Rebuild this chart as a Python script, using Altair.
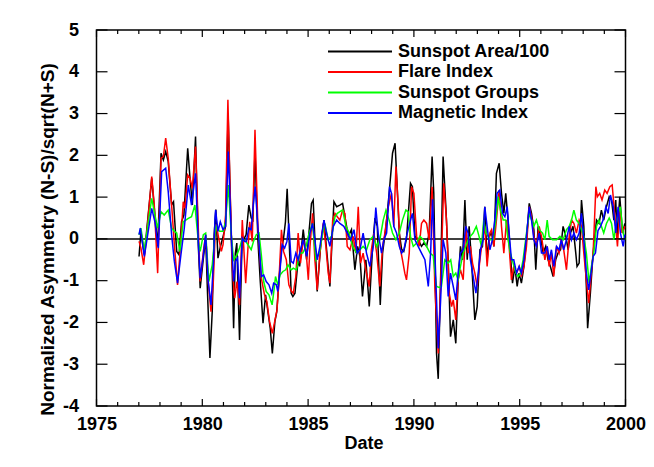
import altair as alt
import pandas as pd

FONT = "Liberation Sans, Arial, Helvetica, sans-serif"

names = ["Sunspot Area/100", "Flare Index", "Sunspot Groups", "Magnetic Index"]
colors = ["#000000", "#ff0000", "#00ff00", "#0000ff"]

area = [(1977.01,-0.42),(1977.10,0.18),(1977.26,-0.38),(1977.61,1.45),(1977.89,-0.18),(1978.05,2.05),(1978.16,1.89),(1978.27,2.09),(1978.39,1.85),(1978.55,0.81),(1978.64,0.89),(1978.79,-0.30),(1978.90,-0.38),(1979.02,0.41),(1979.13,0.57),(1979.31,2.17),(1979.42,1.45),(1979.53,0.81),(1979.68,2.45),(1979.81,-0.14),(1979.90,-1.18),(1980.05,-0.46),(1980.16,0.02),(1980.25,-1.34),(1980.36,-2.85),(1980.47,-1.74),(1980.56,0.10),(1980.64,0.70),(1980.74,-0.46),(1980.85,-0.20),(1980.98,0.05),(1981.10,0.30),(1981.22,3.00),(1981.33,0.80),(1981.40,-0.50),(1981.48,-2.14),(1981.56,-0.35),(1981.63,-0.10),(1981.76,-2.42),(1981.88,-0.06),(1981.99,0.02),(1982.07,0.10),(1982.20,0.81),(1982.31,0.50),(1982.39,0.45),(1982.49,2.09),(1982.63,-0.05),(1982.74,-1.02),(1982.87,-2.02),(1982.99,-1.34),(1983.10,-1.74),(1983.21,-2.14),(1983.31,-2.74),(1983.43,-1.98),(1983.52,-1.74),(1983.62,-1.02),(1983.73,-0.30),(1983.84,0.02),(1983.93,0.41),(1984.01,1.20),(1984.09,0.18),(1984.20,-1.30),(1984.28,-1.38),(1984.38,-1.30),(1984.53,-0.50),(1984.60,-0.66),(1984.77,0.22),(1984.93,-0.50),(1985.16,0.85),(1985.24,0.93),(1985.43,-1.26),(1985.59,-0.18),(1985.75,0.45),(1986.03,-1.14),(1986.22,0.89),(1986.35,0.77),(1986.50,0.81),(1986.63,0.85),(1986.74,0.53),(1986.90,0.06),(1987.05,0.22),(1987.21,-0.74),(1987.34,-0.18),(1987.45,-0.42),(1987.57,-1.38),(1987.73,-0.50),(1987.89,-1.62),(1988.05,-0.18),(1988.16,0.50),(1988.27,0.30),(1988.41,-1.58),(1988.52,-0.34),(1988.68,0.30),(1988.83,1.09),(1988.99,2.05),(1989.11,2.29),(1989.21,1.25),(1989.31,0.14),(1989.42,-0.25),(1989.52,-0.30),(1989.65,0.00),(1989.84,1.33),(1989.93,1.25),(1990.05,0.06),(1990.20,-0.02),(1990.36,-0.18),(1990.47,-0.10),(1990.60,-0.18),(1990.72,0.14),(1990.86,1.97),(1990.94,1.09),(1991.07,-2.74),(1991.15,-3.35),(1991.26,-1.00),(1991.38,1.97),(1991.51,0.77),(1991.62,-0.50),(1991.73,-2.34),(1991.86,-1.94),(1991.98,-2.50),(1992.09,-1.00),(1992.20,-0.18),(1992.30,-0.50),(1992.41,0.93),(1992.52,-0.50),(1992.61,0.30),(1992.72,-0.50),(1992.88,-1.94),(1992.99,-1.62),(1993.12,-0.26),(1993.24,-0.18),(1993.35,0.77),(1993.46,-0.50),(1993.56,0.06),(1993.67,0.14),(1993.78,-0.18),(1993.90,1.57),(1994.03,1.81),(1994.14,1.09),(1994.25,0.61),(1994.34,1.09),(1994.45,0.45),(1994.53,-0.18),(1994.66,-1.06),(1994.77,-0.66),(1994.88,-1.14),(1994.97,-0.82),(1995.08,-1.06),(1995.20,-0.66),(1995.32,-0.02),(1995.45,0.85),(1995.56,0.61),(1995.67,0.22),(1995.76,-0.74),(1995.87,0.30),(1995.98,0.06),(1996.11,-0.34),(1996.23,-0.18),(1996.34,-0.50),(1996.45,-0.66),(1996.58,-0.90),(1996.70,-0.50),(1996.81,-0.34),(1996.93,-0.26),(1997.05,0.30),(1997.18,0.06),(1997.29,-0.26),(1997.40,0.14),(1997.52,0.30),(1997.65,-0.34),(1997.71,-0.66),(1997.81,-0.58),(1997.92,0.93),(1998.03,0.30),(1998.15,-1.14),(1998.21,-2.14),(1998.34,-1.30),(1998.47,-0.34),(1998.63,0.45),(1998.75,0.37),(1998.86,0.69),(1998.97,0.45),(1999.10,0.77),(1999.23,1.01),(1999.34,0.93),(1999.45,0.45),(1999.54,0.93),(1999.60,0.06),(1999.73,1.01),(1999.86,0.14),(1999.97,0.37)]

flare = [(1977.01,-0.06),(1977.10,-0.22),(1977.23,-0.62),(1977.37,0.10),(1977.61,1.49),(1977.73,0.81),(1977.89,-0.82),(1978.05,1.93),(1978.16,1.97),(1978.27,2.41),(1978.39,1.93),(1978.55,0.81),(1978.68,-0.14),(1978.83,-1.10),(1978.94,-0.38),(1979.10,0.89),(1979.18,0.73),(1979.31,1.53),(1979.42,1.45),(1979.53,1.21),(1979.68,2.21),(1979.81,0.26),(1979.90,-1.02),(1980.05,-0.30),(1980.16,0.10),(1980.28,-1.02),(1980.41,-1.74),(1980.52,-1.02),(1980.60,0.02),(1980.66,0.35),(1980.78,0.00),(1980.90,-0.30),(1980.98,-0.14),(1981.10,0.57),(1981.21,3.33),(1981.32,1.05),(1981.42,-0.70),(1981.53,-1.42),(1981.64,-1.02),(1981.76,-1.58),(1981.89,0.45),(1982.05,-1.06),(1982.24,0.41),(1982.36,-0.06),(1982.49,2.61),(1982.63,0.26),(1982.79,-0.94),(1982.94,-1.34),(1983.05,-1.50),(1983.18,-1.98),(1983.31,-2.26),(1983.42,-1.98),(1983.53,-1.70),(1983.62,-1.02),(1983.74,0.22),(1983.84,-0.30),(1983.97,-0.50),(1984.09,-1.10),(1984.22,-1.26),(1984.30,-1.30),(1984.42,-0.90),(1984.53,0.14),(1984.64,-0.58),(1984.77,-0.02),(1984.90,-0.26),(1985.01,-0.98),(1985.09,-0.18),(1985.21,0.61),(1985.32,-0.50),(1985.43,-1.22),(1985.56,-0.34),(1985.72,0.37),(1985.84,-0.18),(1985.95,-0.82),(1986.03,-1.06),(1986.16,0.45),(1986.27,0.61),(1986.38,0.53),(1986.50,0.45),(1986.63,0.69),(1986.74,0.61),(1986.85,-0.18),(1986.98,-0.26),(1987.13,0.06),(1987.26,-0.34),(1987.37,0.77),(1987.48,-0.58),(1987.60,-0.34),(1987.73,-0.74),(1987.89,-1.14),(1987.99,-0.26),(1988.11,0.14),(1988.24,-0.34),(1988.39,-1.14),(1988.52,-0.18),(1988.63,0.14),(1988.79,0.77),(1988.94,1.09),(1989.05,0.30),(1989.15,1.73),(1989.26,0.77),(1989.34,-0.18),(1989.46,-0.50),(1989.57,-0.82),(1989.65,-0.98),(1989.78,-0.34),(1989.89,1.25),(1990.00,1.09),(1990.13,0.06),(1990.25,-0.18),(1990.36,0.37),(1990.47,0.45),(1990.60,0.37),(1990.72,-0.02),(1990.86,1.25),(1990.99,-1.14),(1991.15,-2.74),(1991.26,-1.14),(1991.41,1.33),(1991.54,0.45),(1991.67,-1.30),(1991.78,-1.62),(1991.86,-1.46),(1991.98,-1.94),(1992.09,-0.98),(1992.20,-0.74),(1992.33,-0.98),(1992.45,0.30),(1992.56,-0.34),(1992.67,-0.18),(1992.77,-0.58),(1992.88,-0.82),(1992.99,-1.14),(1993.12,-0.50),(1993.24,-0.02),(1993.35,0.30),(1993.46,-0.66),(1993.59,0.14),(1993.67,0.22),(1993.78,-0.18),(1993.90,0.45),(1994.03,1.17),(1994.14,0.30),(1994.25,-0.34),(1994.38,0.45),(1994.50,-0.18),(1994.61,-0.98),(1994.72,-0.66),(1994.85,-0.82),(1994.98,-0.66),(1995.08,-0.90),(1995.20,-0.66),(1995.32,-0.18),(1995.45,0.77),(1995.56,0.53),(1995.67,0.06),(1995.79,-0.18),(1995.92,0.30),(1996.03,0.06),(1996.19,-0.50),(1996.30,-0.18),(1996.39,-0.66),(1996.50,-0.34),(1996.61,-0.90),(1996.74,-0.18),(1996.86,-0.34),(1996.97,-0.02),(1997.08,-0.26),(1997.21,-0.74),(1997.34,0.06),(1997.45,0.45),(1997.56,0.37),(1997.68,0.14),(1997.81,0.45),(1997.92,0.30),(1998.03,-0.34),(1998.15,-0.98),(1998.26,-1.54),(1998.37,-0.90),(1998.47,-0.34),(1998.60,1.25),(1998.67,1.01),(1998.78,1.09),(1998.89,0.93),(1999.02,1.17),(1999.13,1.09),(1999.26,1.25),(1999.37,1.29),(1999.46,0.77),(1999.54,0.30),(1999.62,-0.18),(1999.73,0.77),(1999.84,0.14),(1999.97,0.30)]

groups = [(1977.01,0.10),(1977.10,0.26),(1977.26,-0.30),(1977.45,0.41),(1977.61,0.97),(1977.76,0.57),(1977.89,0.26),(1978.05,0.65),(1978.20,0.57),(1978.39,0.69),(1978.55,0.26),(1978.68,0.18),(1978.79,0.14),(1978.94,-0.30),(1979.10,0.41),(1979.34,0.49),(1979.49,0.53),(1979.65,0.81),(1979.81,-0.06),(1979.90,-0.30),(1980.05,0.10),(1980.16,0.14),(1980.31,-1.02),(1980.47,-0.62),(1980.60,0.10),(1980.66,0.30),(1980.82,0.18),(1980.98,0.18),(1981.10,0.41),(1981.23,1.29),(1981.37,0.10),(1981.48,-0.50),(1981.64,-0.38),(1981.76,-0.22),(1981.89,0.00),(1982.05,-0.06),(1982.16,-0.14),(1982.31,-0.26),(1982.42,-0.06),(1982.55,0.10),(1982.68,0.14),(1982.79,-0.38),(1982.90,-1.02),(1983.02,-1.26),(1983.15,-1.34),(1983.30,-1.58),(1983.40,-1.18),(1983.46,-0.90),(1983.57,-1.10),(1983.68,-0.86),(1983.81,-0.78),(1983.94,-0.74),(1984.05,-0.62),(1984.20,-0.74),(1984.30,-0.70),(1984.45,-0.74),(1984.61,-0.34),(1984.75,-0.34),(1984.90,-0.18),(1985.05,0.14),(1985.21,0.37),(1985.37,-0.50),(1985.53,-0.34),(1985.69,0.14),(1985.79,0.37),(1985.95,-0.02),(1986.11,0.06),(1986.27,0.53),(1986.38,0.61),(1986.50,0.65),(1986.63,0.69),(1986.79,0.30),(1986.94,0.14),(1987.10,-0.18),(1987.29,-0.34),(1987.45,-0.26),(1987.60,-0.18),(1987.76,-0.26),(1987.92,-0.02),(1988.08,0.06),(1988.24,-0.18),(1988.39,-0.02),(1988.55,0.45),(1988.68,0.69),(1988.83,0.45),(1988.99,0.14),(1989.15,-0.02),(1989.31,0.14),(1989.46,0.45),(1989.62,0.69),(1989.73,0.65),(1989.84,0.06),(1989.97,-0.18),(1990.13,-0.10),(1990.28,0.06),(1990.44,-0.02),(1990.60,-0.18),(1990.76,-0.34),(1990.91,-0.40),(1991.07,-1.14),(1991.20,-1.16),(1991.30,-1.14),(1991.46,-0.50),(1991.62,-0.58),(1991.74,-0.50),(1991.86,-0.90),(1991.98,-0.82),(1992.09,-0.98),(1992.20,-0.66),(1992.33,-0.34),(1992.45,-0.18),(1992.56,-0.02),(1992.67,0.06),(1992.80,0.14),(1992.95,0.30),(1993.08,0.06),(1993.19,-0.18),(1993.30,0.45),(1993.40,0.14),(1993.51,0.06),(1993.62,-0.02),(1993.74,-0.02),(1993.87,0.45),(1993.98,1.01),(1994.09,0.69),(1994.22,0.45),(1994.34,0.45),(1994.45,-0.02),(1994.56,-0.34),(1994.69,-0.58),(1994.82,-0.82),(1994.93,-0.90),(1995.04,-0.82),(1995.16,-0.50),(1995.32,0.14),(1995.45,0.61),(1995.56,0.45),(1995.67,0.30),(1995.79,0.45),(1995.92,0.22),(1996.08,0.14),(1996.19,-0.02),(1996.30,0.45),(1996.39,0.06),(1996.55,-0.02),(1996.74,-0.02),(1996.90,0.06),(1997.05,-0.02),(1997.21,0.22),(1997.34,0.30),(1997.45,0.45),(1997.56,0.69),(1997.68,0.45),(1997.81,0.37),(1997.92,0.22),(1998.03,0.06),(1998.15,-0.34),(1998.28,-1.06),(1998.39,-0.66),(1998.50,-0.34),(1998.63,0.30),(1998.74,0.45),(1998.86,0.30),(1998.97,0.14),(1999.10,0.37),(1999.23,0.50),(1999.34,0.37),(1999.45,-0.02),(1999.54,0.30),(1999.65,0.61),(1999.76,0.77),(1999.86,0.22),(1999.97,-0.02)]

magnetic = [(1977.01,0.10),(1977.07,0.26),(1977.26,-0.42),(1977.42,0.10),(1977.61,0.73),(1977.76,0.41),(1977.92,-0.22),(1978.08,1.61),(1978.27,1.69),(1978.39,1.13),(1978.55,0.10),(1978.68,-0.54),(1978.83,-1.06),(1978.99,-0.38),(1979.15,0.26),(1979.34,1.29),(1979.49,0.81),(1979.68,1.57),(1979.81,-0.06),(1979.90,-0.94),(1980.05,-0.38),(1980.16,0.10),(1980.28,-1.02),(1980.41,-1.58),(1980.53,-0.54),(1980.60,0.49),(1980.63,0.69),(1980.74,0.18),(1980.85,0.41),(1980.98,0.22),(1981.10,0.30),(1981.23,2.09),(1981.37,0.10),(1981.48,-1.02),(1981.57,-0.54),(1981.67,-0.46),(1981.76,-1.42),(1981.89,0.02),(1982.00,-0.06),(1982.08,-0.06),(1982.20,0.26),(1982.31,0.22),(1982.39,0.73),(1982.50,1.25),(1982.63,0.26),(1982.79,-0.90),(1982.90,-0.86),(1983.02,-1.02),(1983.15,-1.10),(1983.28,-1.30),(1983.37,-1.06),(1983.50,-1.10),(1983.57,-1.26),(1983.68,-0.70),(1983.78,-0.14),(1983.89,-0.22),(1984.00,-0.06),(1984.09,0.37),(1984.20,-0.54),(1984.30,-0.58),(1984.42,-0.34),(1984.53,-0.50),(1984.64,-0.26),(1984.77,-0.02),(1984.93,-0.42),(1985.09,0.14),(1985.21,0.37),(1985.32,-0.02),(1985.43,-0.50),(1985.56,-0.18),(1985.75,0.45),(1985.87,0.14),(1986.03,-0.18),(1986.19,0.30),(1986.35,0.45),(1986.50,0.37),(1986.69,0.30),(1986.85,0.14),(1987.01,-0.02),(1987.17,0.22),(1987.32,-0.34),(1987.45,-0.26),(1987.60,0.14),(1987.76,-0.34),(1987.92,-0.66),(1988.08,-0.18),(1988.20,0.75),(1988.31,0.14),(1988.47,-0.34),(1988.58,-0.02),(1988.71,0.14),(1988.85,1.25),(1988.94,1.09),(1989.05,0.30),(1989.18,0.14),(1989.31,-0.18),(1989.42,-0.34),(1989.53,-0.26),(1989.65,0.06),(1989.84,0.45),(1989.93,0.61),(1990.05,-0.02),(1990.20,-0.18),(1990.36,-0.34),(1990.52,-0.50),(1990.68,-1.14),(1990.79,-0.34),(1990.88,0.95),(1990.99,-0.30),(1991.15,-2.62),(1991.26,-1.50),(1991.38,-0.02),(1991.51,-0.34),(1991.62,-1.38),(1991.73,-0.82),(1991.86,-1.14),(1991.98,-1.46),(1992.09,-0.82),(1992.20,-0.34),(1992.33,-0.26),(1992.45,0.30),(1992.56,0.14),(1992.67,-0.50),(1992.80,-0.90),(1992.93,-1.30),(1993.04,-0.82),(1993.15,-0.26),(1993.27,-0.02),(1993.35,0.77),(1993.46,0.30),(1993.59,-0.26),(1993.71,-0.02),(1993.82,0.45),(1993.93,1.09),(1994.06,1.17),(1994.19,0.61),(1994.30,0.53),(1994.41,0.77),(1994.50,0.14),(1994.61,-0.50),(1994.72,-0.50),(1994.85,-0.82),(1994.97,-0.66),(1995.08,-0.82),(1995.20,-0.50),(1995.32,0.06),(1995.45,0.77),(1995.56,0.45),(1995.67,-0.02),(1995.79,-0.18),(1995.92,0.14),(1996.03,-0.34),(1996.19,-0.34),(1996.30,-0.18),(1996.39,-0.50),(1996.50,-0.26),(1996.61,-0.66),(1996.74,-0.18),(1996.86,-0.26),(1996.97,-0.02),(1997.08,-0.26),(1997.21,-0.02),(1997.34,0.30),(1997.45,-0.02),(1997.56,0.14),(1997.68,-0.02),(1997.81,0.14),(1997.92,0.61),(1998.03,-0.02),(1998.15,-0.82),(1998.26,-1.22),(1998.37,-0.82),(1998.47,-0.42),(1998.58,-0.34),(1998.70,0.20),(1998.82,0.30),(1998.94,0.45),(1999.07,0.77),(1999.18,0.61),(1999.29,1.05),(1999.42,0.77),(1999.54,0.14),(1999.65,0.77),(1999.76,0.14),(1999.89,-0.18),(1999.97,0.10)]

x_major = [1975, 1980, 1985, 1990, 1995, 2000]
x_minor = [y for y in range(1976, 2000) if y % 5 != 0]
y_ticks = list(range(-4, 6))

W, H = 529, 376
xs = alt.Scale(domain=[1975, 2000], nice=False, zero=False)
ys = alt.Scale(domain=[-4, 5], nice=False, zero=False)

x_axis = alt.Axis(values=x_major, format="d", labelFont=FONT, labelFontSize=18,
                  labelFontWeight="bold", labelColor="black", tickSize=0, domain=False,
                  grid=False, labelPadding=18, labelBaseline="middle", labelFlush=False,
                  labelOverlap=False, title="Date", titleFont=FONT, titleFontSize=18,
                  titleFontWeight="bold", titleColor="black", titleX=267, titleY=37,
                  titleBaseline="middle", titleAlign="center")
y_axis = alt.Axis(values=y_ticks, labelExpr="datum.value < 0 ? '-' + abs(datum.value) : '' + datum.value",
                  labelFont=FONT, labelFontSize=18,
                  labelFontWeight="bold", labelColor="black", tickSize=0, domain=False,
                  grid=False, labelPadding=18, labelBaseline="middle", labelFlush=False,
                  labelOverlap=False, title="Normalized Asymmetry (N-S)/sqrt(N+S)",
                  titleFont=FONT, titleFontSize=19, titleFontWeight="bold",
                  titleColor="black", titleX=-49, titleY=209, titleAngle=270,
                  titleBaseline="middle", titleAlign="center")

layers = []

# zero line
zero_df = pd.DataFrame({"z": [0]})
layers.append(alt.Chart(zero_df).mark_rule(color="black", strokeWidth=1.5).encode(
    y=alt.Y("z:Q", scale=ys, axis=y_axis)))

series = [area, flare, groups, magnetic]
for name, color, pts in zip(names, colors, series):
    df = pd.DataFrame(pts, columns=["t", "v"])
    layers.append(alt.Chart(df).mark_line(color=color, strokeWidth=1.5).encode(
        x=alt.X("t:Q", scale=xs, axis=x_axis),
        y=alt.Y("v:Q", scale=ys, axis=y_axis)))

# inward ticks
maj_df = pd.DataFrame({"t": x_major})
min_df = pd.DataFrame({"t": x_minor})
yt_df = pd.DataFrame({"v": y_ticks})
for d, L in [(maj_df, 7), (min_df, 4)]:
    layers.append(alt.Chart(d).mark_rule(color="black", strokeWidth=1.2).encode(
        x=alt.X("t:Q", scale=xs, axis=x_axis), y=alt.value(H), y2=alt.value(H - L)))
    layers.append(alt.Chart(d).mark_rule(color="black", strokeWidth=1.2).encode(
        x=alt.X("t:Q", scale=xs, axis=x_axis), y=alt.value(0), y2=alt.value(L)))
layers.append(alt.Chart(yt_df).mark_rule(color="black", strokeWidth=1.2).encode(
    y=alt.Y("v:Q", scale=ys, axis=y_axis), x=alt.value(0), x2=alt.value(11)))
layers.append(alt.Chart(yt_df).mark_rule(color="black", strokeWidth=1.2).encode(
    y=alt.Y("v:Q", scale=ys, axis=y_axis), x=alt.value(W), x2=alt.value(W - 11)))

# legend (drawn manually, top right inside the plot)
for i, (name, color) in enumerate(zip(names, colors)):
    ld = pd.DataFrame({"name": [name]})
    yy = 21.5 + 20.5 * i
    layers.append(alt.Chart(ld).mark_rule(color=color, strokeWidth=2).encode(
        x=alt.value(231.5), x2=alt.value(295.5), y=alt.value(yy)))
    layers.append(alt.Chart(ld).mark_text(align="left", baseline="middle", font=FONT,
                                          fontSize=18, fontWeight="bold", color="black").encode(
        x=alt.value(301.5), y=alt.value(yy), text="name:N"))

chart = alt.layer(*layers).properties(
    width=W, height=H,
    autosize=alt.AutoSizeParams(type="none"),
    padding={"left": 88.5, "top": 22, "right": 20, "bottom": 45},
    background="white",
).configure_view(stroke="black", strokeWidth=1.5)

chart.save("out.html", embed_options={"renderer": "svg", "actions": False})
